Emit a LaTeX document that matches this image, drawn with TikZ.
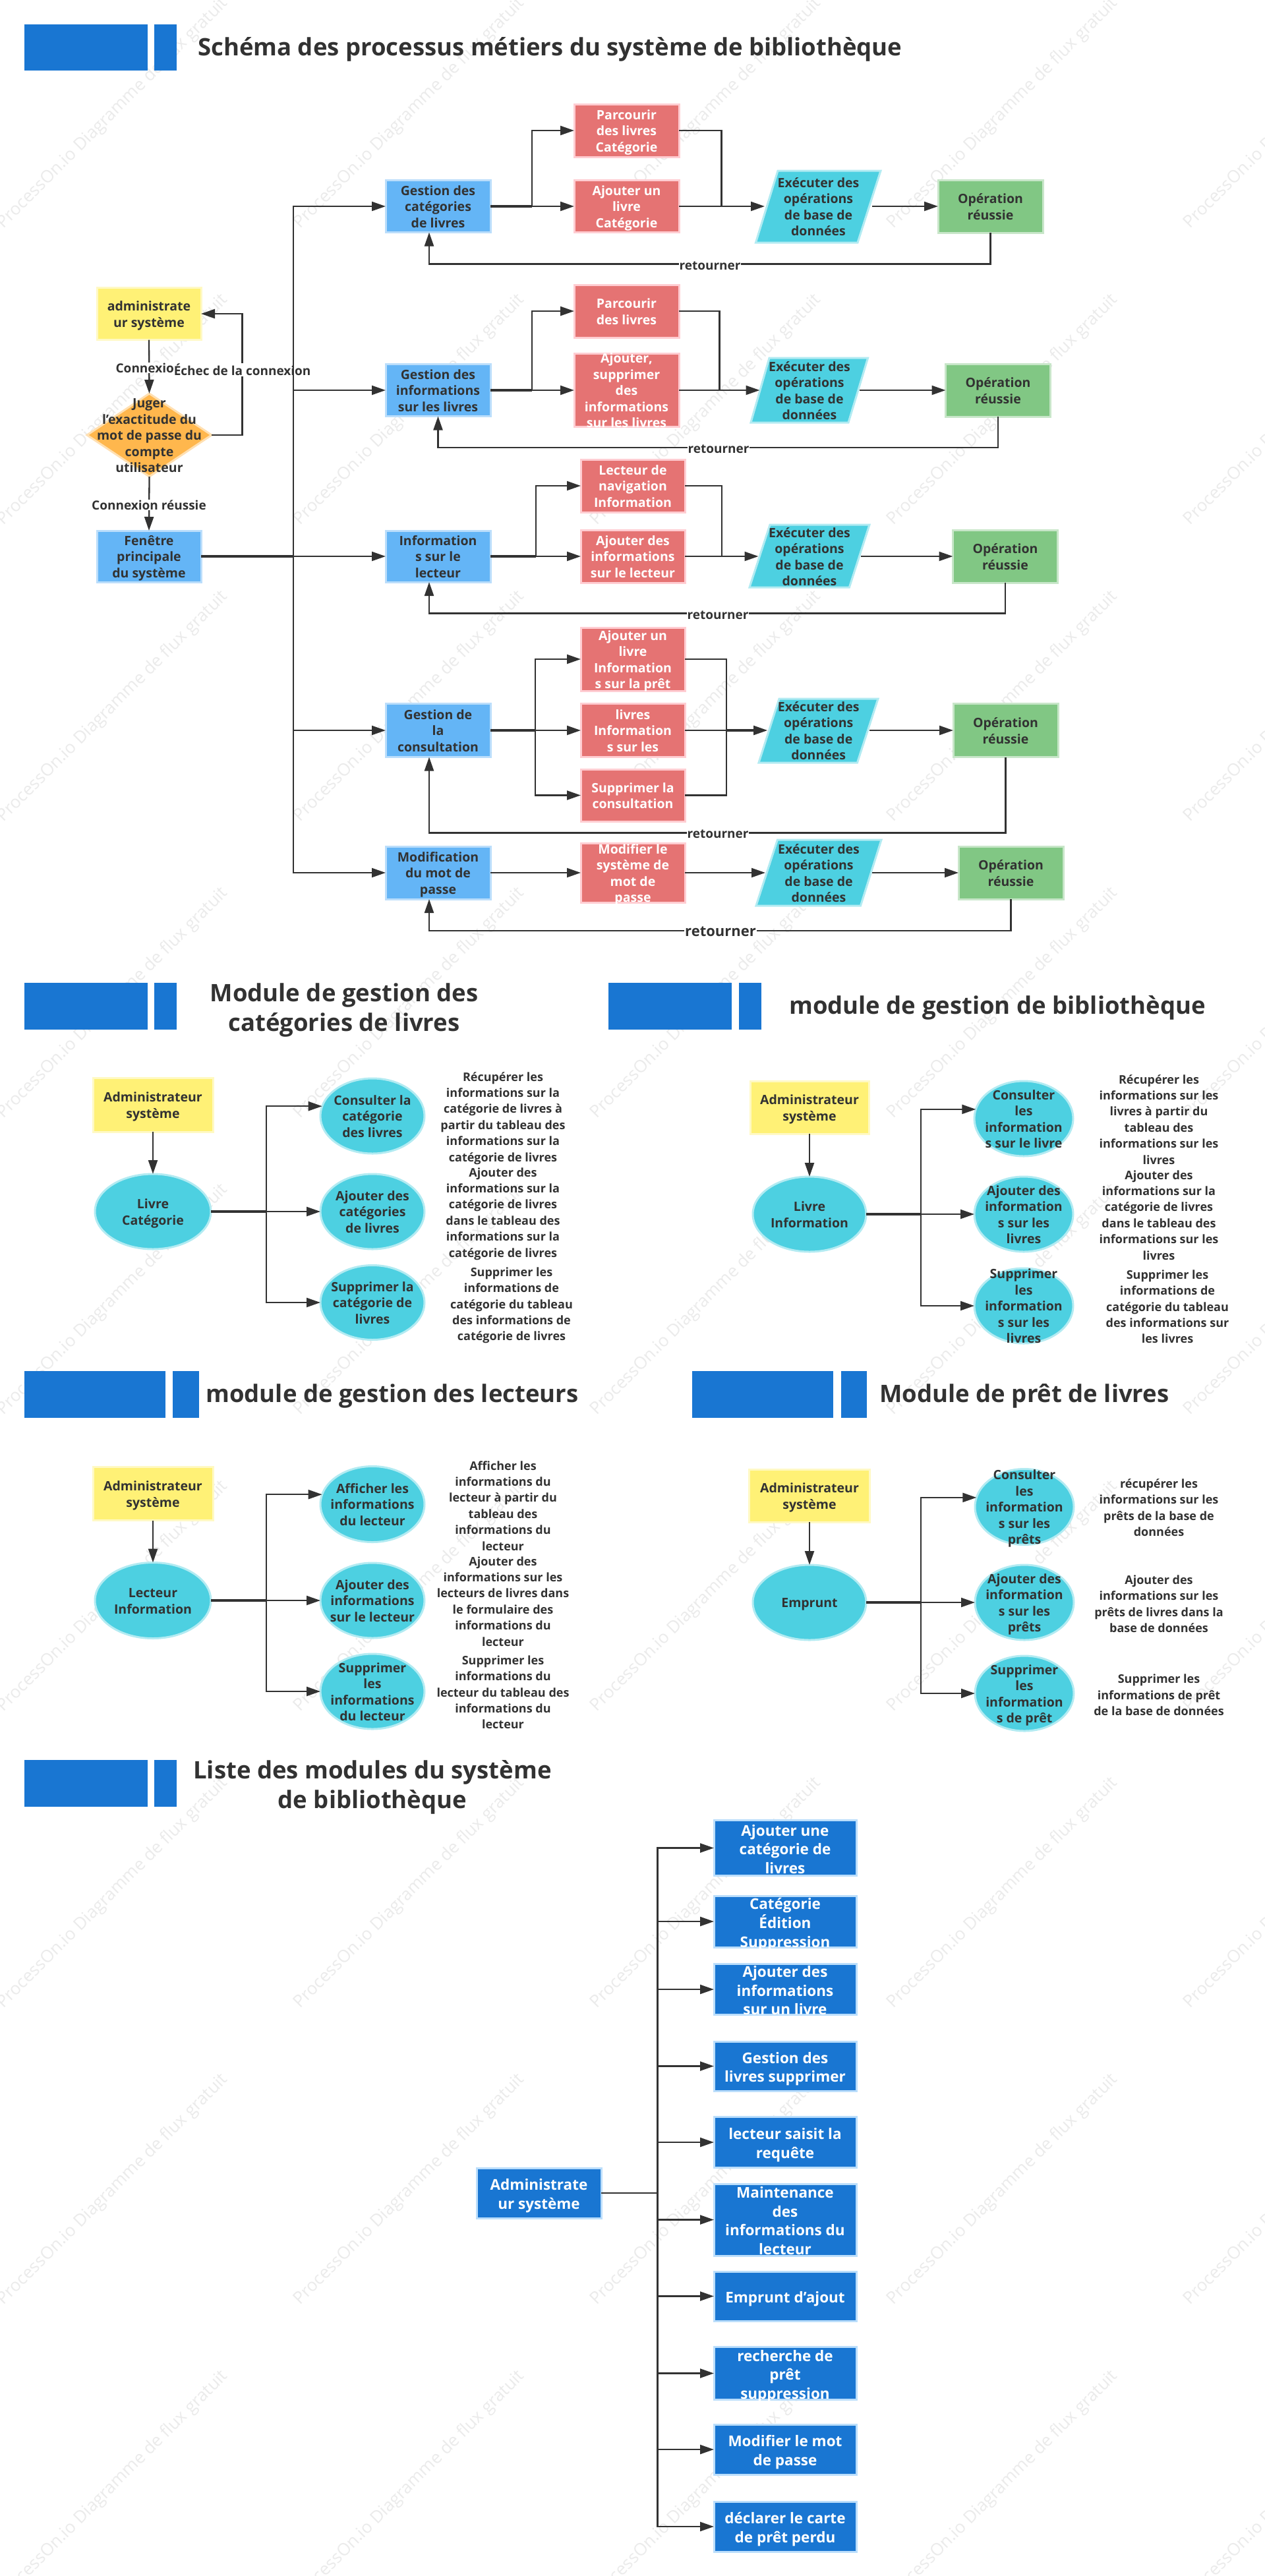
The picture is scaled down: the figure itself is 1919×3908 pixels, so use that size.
\documentclass[tikz,border=0pt]{standalone}
\usepackage{fontspec}
\setmainfont{Open Sans}
\usetikzlibrary{arrows.meta,shapes.geometric,calc}
\definecolor{ink}{HTML}{323232}
\definecolor{hdr}{HTML}{1976D2}
\definecolor{hdrb}{HTML}{BBDEFB}
\definecolor{bluef}{HTML}{64B5F6}
\definecolor{redf}{HTML}{E57373}
\definecolor{redb}{HTML}{FFCDD2}
\definecolor{yelf}{HTML}{FFF176}
\definecolor{yelb}{HTML}{FFF9C4}
\definecolor{grnf}{HTML}{81C784}
\definecolor{grnb}{HTML}{C8E6C9}
\definecolor{tealf}{HTML}{4DD0E1}
\definecolor{tealb}{HTML}{B2EBF2}
\definecolor{orf}{HTML}{FFB74D}
\definecolor{orb}{HTML}{FFE0B2}
\definecolor{wmk}{HTML}{EBEBEB}
\newcommand{\mylines}[1]{\makebox[0pt]{\raisebox{-.42em}[0pt][0pt]{\begin{tabular}{@{}c@{}}#1\end{tabular}}}}
\tikzset{
  base/.style={inner sep=0pt,outer sep=0pt,line width=3pt,font=\fontsize{19.5}{24.5}\selectfont\bfseries,text=ink},
  bluebox/.style={base,rectangle,draw=hdrb,fill=bluef},
  redbox/.style={base,rectangle,draw=redb,fill=redf,text=white},
  yelbox/.style={base,rectangle,draw=yelb,fill=yelf},
  grnbox/.style={base,rectangle,draw=grnb,fill=grnf,minimum width=159pt,minimum height=80pt},
  oval/.style={base,ellipse,draw=tealb,fill=tealf},
  slant/.style={draw=tealb,fill=tealf,line width=3pt},
  paratext/.style={base,rectangle},
  modbox/.style={base,rectangle,draw=hdrb,fill=hdr,text=white,minimum width=216pt,font=\fontsize{22.5}{28.5}\selectfont\bfseries},
  hbar/.style={fill=hdr,draw=none,rectangle,inner sep=0pt,outer sep=0pt},
  title/.style={inner sep=0pt,text=ink,font=\fontsize{36.5}{45}\selectfont\bfseries},
  desc/.style={inner sep=0pt,text=ink,font=\fontsize{18}{24.4}\selectfont\bfseries},
  tag/.style={inner sep=1pt,fill=white,text=ink,font=\fontsize{19}{24}\selectfont\bfseries},
  wm/.style={inner sep=0pt,text=wmk,rotate=45,font=\fontsize{26}{30}\selectfont},
  conn/.style={draw=ink,line width=2.3pt},
  stem/.style={draw=ink,line width=3.8pt},
  arr/.style={conn,-{Triangle[length=21pt,width=14pt]}}
}
\begin{document}
\begin{tikzpicture}[x=1pt,y=-1pt]
\useasboundingbox (0,0) rectangle (1919,3908);
\fill[white] (0,0) rectangle (1919,3908);
% watermark
\foreach \i in {0,...,4}{\foreach \j in {0,...,8}{
  \node[wm] (wm-\i-\j) at ({171+450*\i},{172+450*\j}) {ProcessOn.io Diagramme de flux gratuit};
}}
% headers
\node[hbar,minimum width=187pt,minimum height=70pt] (h1a) at (130.5,72) {};
\node[hbar,minimum width=34pt,minimum height=70pt] (h1b) at (251,72) {};
\node[title,anchor=west] (t1) at (300,75) {Schéma des processus métiers du système de bibliothèque};
\node[hbar,minimum width=187pt,minimum height=71pt] (h2a) at (130.5,1526.5) {};
\node[hbar,minimum width=34pt,minimum height=71pt] (h2b) at (251,1526.5) {};
\node[title] (t2) at (522,1524) {\mylines{Module de gestion des\\catégories de livres}};
\node[hbar,minimum width=187pt,minimum height=71pt] (h3a) at (1016.5,1526.5) {};
\node[hbar,minimum width=34pt,minimum height=71pt] (h3b) at (1138,1526.5) {};
\node[title] (t3) at (1513,1529) {module de gestion de bibliothèque};
\node[hbar,minimum width=214pt,minimum height=71pt] (h4a) at (144,2115.5) {};
\node[hbar,minimum width=40pt,minimum height=71pt] (h4b) at (282,2115.5) {};
\node[title] (t4) at (595,2118) {module de gestion des lecteurs};
\node[hbar,minimum width=214pt,minimum height=71pt] (h5a) at (1157,2115.5) {};
\node[hbar,minimum width=39pt,minimum height=71pt] (h5b) at (1295.5,2115.5) {};
\node[title] (t5) at (1554,2118) {Module de prêt de livres};
\node[hbar,minimum width=187pt,minimum height=71pt] (h6a) at (130.5,2705.5) {};
\node[hbar,minimum width=34pt,minimum height=71pt] (h6b) at (251,2705.5) {};
\node[title] (t6) at (565,2703) {\mylines{Liste des modules du système\\de bibliothèque}};

% login column
\node[yelbox,minimum width=158pt,minimum height=79pt] (adm) at (226,476) {\mylines{administrate\\ur système}};
\node[base,diamond,draw=orb,fill=orf,minimum width=189pt,minimum height=126pt] (dec) at (226.5,660) {\mylines{Juger\\l'exactitude du\\mot de passe du\\compte\\utilisateur}};
\node[bluebox,minimum width=158pt,minimum height=78pt] (win) at (226,844) {\mylines{Fenêtre\\principale\\du système}};

% row 1
\node[bluebox,minimum width=159pt,minimum height=79pt] (b1) at (664.5,313) {\mylines{Gestion des\\catégories\\de livres}};
\node[redbox,minimum width=159pt,minimum height=80pt] (r11) at (950.5,198) {\mylines{Parcourir\\des livres\\Catégorie}};
\node[redbox,minimum width=159pt,minimum height=79pt] (r12) at (950.5,313) {\mylines{Ajouter un\\livre\\Catégorie}};
\draw[slant] (1180,259) -- (1336,259) -- (1301,368) -- (1146.5,368) -- cycle;
\node[paratext,minimum width=163pt,minimum height=109pt] (p1) at (1241.5,313) {\mylines{Exécuter des\\opérations\\de base de\\données}};
\node[grnbox] (g1) at (1502.5,313) {\mylines{Opération\\réussie}};
% row 2
\node[bluebox,minimum width=159pt,minimum height=79pt] (b2) at (664.5,592) {\mylines{Gestion des\\informations\\sur les livres}};
\node[redbox,minimum width=159pt,minimum height=80pt] (r21) at (950.5,472) {\mylines{Parcourir\\des livres}};
\node[redbox,minimum width=159pt,minimum height=111pt] (r22) at (950.5,592) {\mylines{Ajouter,\\supprimer\\des\\informations\\sur les livres}};
\draw[slant] (1167,543) -- (1316.6,543) -- (1287,641) -- (1139,641) -- cycle;
\node[paratext,minimum width=151pt,minimum height=98pt] (p2) at (1228,592) {\mylines{Exécuter des\\opérations\\de base de\\données}};
\node[grnbox] (g2) at (1514,592) {\mylines{Opération\\réussie}};
% row 3
\node[bluebox,minimum width=159pt,minimum height=78pt] (b3) at (664.5,844) {\mylines{Information\\s sur le\\lecteur}};
\node[redbox,minimum width=158pt,minimum height=80pt] (r31) at (960,737) {\mylines{Lecteur de\\navigation\\Information}};
\node[redbox,minimum width=158pt,minimum height=80pt] (r32) at (960,844) {\mylines{Ajouter des\\informations\\sur le lecteur}};
\draw[slant] (1168,796) -- (1319,796) -- (1288.4,891) -- (1137,891) -- cycle;
\node[paratext,minimum width=155pt,minimum height=95pt] (p3) at (1228,844) {\mylines{Exécuter des\\opérations\\de base de\\données}};
\node[grnbox] (g3) at (1525,844) {\mylines{Opération\\réussie}};
% row 4
\node[bluebox,minimum width=159pt,minimum height=81pt] (b4) at (664.5,1108) {\mylines{Gestion de\\la\\consultation}};
\node[redbox,minimum width=158pt,minimum height=96pt] (r41) at (960,1000) {\mylines{Ajouter un\\livre\\Information\\s sur la prêt}};
\node[redbox,minimum width=158pt,minimum height=81pt] (r42) at (960,1108) {\mylines{livres\\Information\\s sur les}};
\node[redbox,minimum width=158pt,minimum height=79pt] (r43) at (960,1206.5) {\mylines{Supprimer la\\consultation}};
\draw[slant] (1182,1060) -- (1332,1060) -- (1300.5,1157) -- (1151,1157) -- cycle;
\node[paratext,minimum width=155pt,minimum height=97pt] (p4) at (1241.7,1108) {\mylines{Exécuter des\\opérations\\de base de\\données}};
\node[grnbox,minimum height=81pt] (g4) at (1525.5,1108) {\mylines{Opération\\réussie}};
% row 5
\node[bluebox,minimum width=159pt,minimum height=80pt] (b5) at (664.5,1324) {\mylines{Modification\\du mot de\\passe}};
\node[redbox,minimum width=158pt,minimum height=90pt] (r51) at (960,1324) {\mylines{Modifier le\\système de\\mot de\\passe}};
\draw[slant] (1179.4,1274) -- (1337,1274) -- (1305.5,1374) -- (1147,1374) -- cycle;
\node[paratext,minimum width=162pt,minimum height=100pt] (p5) at (1242,1324) {\mylines{Exécuter des\\opérations\\de base de\\données}};
\node[grnbox] (g5) at (1533.5,1324) {\mylines{Opération\\réussie}};

% login connectors
\coordinate (trunk) at (445,844);
\coordinate (failx) at (367.4,568);
\draw[arr] (adm.south) -- (dec.north);
\node[tag] (lconn) at (226,558) {Connexion};
\draw[arr] (dec.east) -| (failx) |- (adm.east);
\node[tag] (lfail) at (367.6,561) {Échec de la connexion};
\draw[arr] (dec.south) -- (win.north);
\node[tag] (lok) at (226,766) {Connexion réussie};
\draw[stem] (win.east) -- (trunk);
\draw[arr] (trunk) |- (b1.west);
\draw[arr] (trunk) |- (b2.west);
\draw[arr] (win.east) -- (b3.west);
\draw[arr] (trunk) |- (b4.west);
\draw[arr] (trunk) |- (b5.west);

% row 1 connectors
\coordinate (s1) at (807,313);
\coordinate (m1) at (1094.6,313);
\coordinate (ret1) at (651,400.5);
\draw[stem] (b1.east) -- (s1);
\draw[arr] (s1) |- (r11.west);
\draw[arr] (s1) -- (r12.west);
\draw[conn] (r11.east) -| (m1);
\draw[arr] (r12.east) -- (p1.west);
\draw[arr] (p1.east) -- (g1.west);
\draw[arr] (g1.south) |- (ret1) -- (b1.south -| ret1);
\node[tag] (lr1) at (1077,403) {retourner};
% row 2 connectors
\coordinate (s2) at (807,592);
\coordinate (m2) at (1091.5,592);
\coordinate (ret2) at (664.5,679);
\draw[stem] (b2.east) -- (s2);
\draw[arr] (s2) |- (r21.west);
\draw[arr] (s2) -- (r22.west);
\draw[conn] (r21.east) -| (m2);
\draw[arr] (r22.east) -- (p2.west);
\draw[arr] (p2.east) -- (g2.west);
\draw[arr] (g2.south) |- (ret2) -- (b2.south);
\node[tag] (lr2) at (1090,681) {retourner};
% row 3 connectors
\coordinate (s3) at (813,844);
\coordinate (m3) at (1095,844);
\coordinate (ret3) at (651,930.6);
\draw[stem] (b3.east) -- (s3);
\draw[arr] (s3) |- (r31.west);
\draw[arr] (s3) -- (r32.west);
\draw[conn] (r31.east) -| (m3);
\draw[arr] (r32.east) -- (p3.west);
\draw[arr] (p3.east) -- (g3.west);
\draw[arr] (g3.south) |- (ret3) -- (b3.south -| ret3);
\node[tag] (lr3) at (1089,933) {retourner};
% row 4 connectors
\coordinate (s4) at (812,1108);
\coordinate (m4) at (1102,1108);
\coordinate (ret4) at (651,1263.6);
\draw[stem] (b4.east) -- (s4);
\draw[arr] (s4) |- (r41.west);
\draw[arr] (s4) -- (r42.west);
\draw[arr] (s4) |- (r43.west);
\draw[conn] (r41.east) -| (m4);
\draw[conn] (r43.east) -| (m4);
\draw[conn] (r42.east) -- (m4);
\draw[stem] (m4) -- ([xshift=-10pt]p4.west);
\draw[arr] (m4) -- (p4.west);
\draw[arr] (p4.east) -- (g4.west);
\draw[arr] (g4.south) |- (ret4) -- (b4.south -| ret4);
\node[tag] (lr4) at (1089,1265) {retourner};
% row 5 connectors
\coordinate (ret5) at (651,1412);
\draw[arr] (b5.east) -- (r51.west);
\draw[arr] (r51.east) -- (p5.west);
\draw[arr] (p5.east) -- (g5.west);
\draw[arr] (g5.south) |- (ret5) -- (b5.south -| ret5);
\node[tag,font=\fontsize{22}{26}\selectfont\bfseries] (lr5) at (1093,1413) {retourner};

% module: categories
\node[yelbox,minimum width=182pt,minimum height=82pt] (ma) at (232,1676) {\mylines{Administrateur\\système}};
\node[oval,minimum width=176pt,minimum height=114pt] (me) at (232,1838) {\mylines{Livre\\Catégorie}};
\node[oval,minimum width=158pt,minimum height=114pt] (me1) at (565,1693) {\mylines{Consulter la\\catégorie\\des livres}};
\node[oval,minimum width=158pt,minimum height=114pt] (me2) at (565,1838) {\mylines{Ajouter des\\catégories\\de livres}};
\node[oval,minimum width=158pt,minimum height=113pt] (me3) at (565,1976) {\mylines{Supprimer la\\catégorie de\\livres}};
\node[desc] (md1) at (763,1693) {\mylines{Récupérer les\\informations sur la\\catégorie de livres à\\partir du tableau des\\informations sur la\\catégorie de livres}};
\node[desc] (md2) at (763,1838) {\mylines{Ajouter des\\informations sur la\\catégorie de livres\\dans le tableau des\\informations sur la\\catégorie de livres}};
\node[desc] (md3) at (776,1977) {\mylines{Supprimer les\\informations de\\catégorie du tableau\\des informations de\\catégorie de livres}};
\coordinate (mb) at (404,1838);
\draw[arr] (ma.south) -- (me.north);
\draw[stem] (me.east) -- (mb);
\draw[arr] (mb) |- (me1.169);
\draw[arr] (mb) -- (me2.west);
\draw[arr] (mb) |- (me3.west);

% module: books
\node[yelbox,minimum width=180pt,minimum height=80pt] (na) at (1228,1680) {\mylines{Administrateur\\système}};
\node[oval,minimum width=172pt,minimum height=114pt] (ne) at (1228,1842) {\mylines{Livre\\Information}};
\node[oval,minimum width=150pt,minimum height=114pt] (ne1) at (1553,1697) {\mylines{Consulter\\les\\information\\s sur le livre}};
\node[oval,minimum width=150pt,minimum height=114pt] (ne2) at (1553,1842) {\mylines{Ajouter des\\information\\s sur les\\livres}};
\node[oval,minimum width=150pt,minimum height=114pt] (ne3) at (1553,1981) {\mylines{Supprimer\\les\\information\\s sur les\\livres}};
\node[desc] (nd1) at (1758,1697) {\mylines{Récupérer les\\informations sur les\\livres à partir du\\tableau des\\informations sur les\\livres}};
\node[desc] (nd2) at (1758,1842) {\mylines{Ajouter des\\informations sur la\\catégorie de livres\\dans le tableau des\\informations sur les\\livres}};
\node[desc] (nd3) at (1771,1981) {\mylines{Supprimer les\\informations de\\catégorie du tableau\\des informations sur\\les livres}};
\coordinate (nb) at (1397,1842);
\draw[arr] (na.south) -- (ne.north);
\draw[stem] (ne.east) -- (nb);
\draw[arr] (nb) |- (ne1.169);
\draw[arr] (nb) -- (ne2.west);
\draw[arr] (nb) |- (ne3.west);

% module: readers
\node[yelbox,minimum width=182pt,minimum height=81pt] (oa) at (232,2266) {\mylines{Administrateur\\système}};
\node[oval,minimum width=176pt,minimum height=115pt] (oe) at (232,2428) {\mylines{Lecteur\\Information}};
\node[oval,minimum width=158pt,minimum height=115pt] (oe1) at (565,2282) {\mylines{Afficher les\\informations\\du lecteur}};
\node[oval,minimum width=158pt,minimum height=114pt] (oe2) at (565,2428) {\mylines{Ajouter des\\informations\\sur le lecteur}};
\node[oval,minimum width=158pt,minimum height=114pt] (oe3) at (565,2566) {\mylines{Supprimer\\les\\informations\\du lecteur}};
\node[desc] (od1) at (763,2283) {\mylines{Afficher les\\informations du\\lecteur à partir du\\tableau des\\informations du\\lecteur}};
\node[desc] (od2) at (763,2428) {\mylines{Ajouter des\\informations sur les\\lecteurs de livres dans\\le formulaire des\\informations du\\lecteur}};
\node[desc] (od3) at (763,2566) {\mylines{Supprimer les\\informations du\\lecteur du tableau des\\informations du\\lecteur}};
\coordinate (ob) at (404,2428);
\draw[arr] (oa.south) -- (oe.north);
\draw[stem] (oe.east) -- (ob);
\draw[arr] (ob) |- (oe1.169);
\draw[arr] (ob) -- (oe2.west);
\draw[arr] (ob) |- (oe3.west);

% module: loans
\node[yelbox,minimum width=183pt,minimum height=80pt] (qa) at (1228,2269) {\mylines{Administrateur\\système}};
\node[oval,minimum width=172pt,minimum height=114pt] (qe) at (1228,2431) {\mylines{Emprunt}};
\node[oval,minimum width=150pt,minimum height=115pt] (qe1) at (1554,2286) {\mylines{Consulter\\les\\information\\s sur les\\prêts}};
\node[oval,minimum width=150pt,minimum height=114pt] (qe2) at (1554,2431) {\mylines{Ajouter des\\information\\s sur les\\prêts}};
\node[oval,minimum width=150pt,minimum height=114pt] (qe3) at (1554,2569) {\mylines{Supprimer\\les\\information\\s de prêt}};
\node[desc] (qd1) at (1758,2286) {\mylines{récupérer les\\informations sur les\\prêts de la base de\\données}};
\node[desc] (qd2) at (1758,2432) {\mylines{Ajouter des\\informations sur les\\prêts de livres dans la\\base de données}};
\node[desc] (qd3) at (1758,2570) {\mylines{Supprimer les\\informations de prêt\\de la base de données}};
\coordinate (qb) at (1397,2431);
\draw[arr] (qa.south) -- (qe.north);
\draw[stem] (qe.east) -- (qb);
\draw[arr] (qb) |- (qe1.169);
\draw[arr] (qb) -- (qe2.west);
\draw[arr] (qb) |- (qe3.west);

% module list
\node[modbox,minimum width=189pt,minimum height=76pt] (root) at (817.5,3327) {\mylines{Administrate\\ur système}};
\node[modbox,minimum height=84pt] (k1) at (1191,2803.5) {\mylines{Ajouter une\\catégorie de\\livres}};
\node[modbox,minimum height=78pt] (k2) at (1191,2915) {\mylines{Catégorie\\Édition\\Suppression}};
\node[modbox,minimum height=77pt] (k3) at (1191,3018) {\mylines{Ajouter des\\informations\\sur un livre}};
\node[modbox,minimum height=75pt] (k4) at (1191,3134.5) {\mylines{Gestion des\\livres supprimer}};
\node[modbox,minimum height=77pt] (k5) at (1191,3250) {\mylines{lecteur saisit la\\requête}};
\node[modbox,minimum height=109pt] (k6) at (1191,3367.5) {\mylines{Maintenance\\des\\informations du\\lecteur}};
\node[modbox,minimum height=75pt] (k7) at (1191,3483.5) {\mylines{Emprunt d'ajout}};
\node[modbox,minimum height=80pt] (k8) at (1191,3600.5) {\mylines{recherche de\\prêt\\suppression}};
\node[modbox,minimum height=76pt] (k9) at (1191,3716) {\mylines{Modifier le mot\\de passe}};
\node[modbox,minimum height=76pt] (k10) at (1191,3833) {\mylines{déclarer le carte\\de prêt perdu}};
\coordinate (kb) at (997.4,3327);
\draw[conn] (root.east) -- (kb);
\foreach \k in {1,...,10}{\draw[arr] (kb) |- (k\k.west);}
\end{tikzpicture}
\end{document}
